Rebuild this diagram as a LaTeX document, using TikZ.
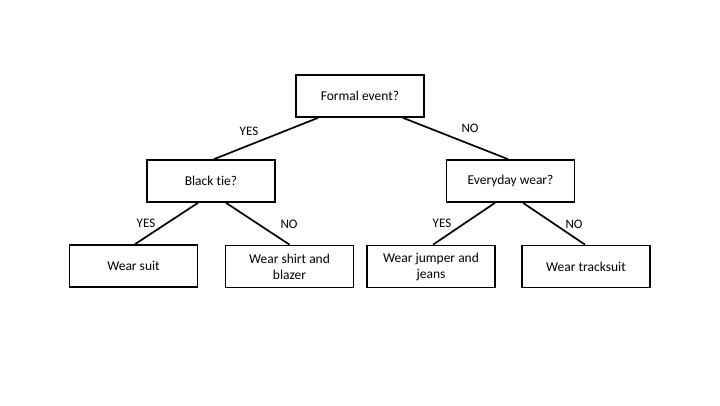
\documentclass[tikz,border=0pt]{standalone}
\usepackage{fontspec}
\setmainfont{Carlito}[Ligatures=NoCommon]
\usepackage{tikz}

\tikzset{
  choice/.style={draw, line width=1.7pt, minimum width=128pt, minimum height=42pt,
    align=center, inner sep=2pt, font=\fontsize{13.5}{16}\selectfont},
  branch/.style={line width=1.7pt},
  answer/.style={font=\fontsize{13}{14}\selectfont}
}

\begin{document}
\begin{tikzpicture}[x=1pt,y=-1pt]
\useasboundingbox (0,0) rectangle (720,405);

% questions
\node[choice] (formal) at (360,96) {Formal event?};
\node[choice] (blacktie) at (211,181) {Black tie?};
\node[choice] (everyday) at (510.5,181) {Everyday wear?};

% outcomes
\node[choice] (suit) at (133.5,266) {Wear suit};
\node[choice] (shirt) at (289.5,266.5) {Wear shirt and\\blazer};
\node[choice] (jumper) at (431,266.5) {Wear jumper and\\jeans};
\node[choice] (track) at (586,266.5) {Wear tracksuit};

% branches
\draw[branch] ([xshift=-42pt]formal.south) -- ([xshift=3pt]blacktie.north);
\draw[branch] ([xshift=43pt]formal.south) -- ([xshift=-2.5pt]everyday.north);
\draw[branch] ([xshift=-13pt]blacktie.south) -- ([xshift=1.5pt]suit.north);
\draw[branch] ([xshift=15pt]blacktie.south) -- ([xshift=0pt]shirt.north);
\draw[branch] ([xshift=-15.5pt]everyday.south) -- ([xshift=2pt]jumper.north);
\draw[branch] ([xshift=12.5pt]everyday.south) -- ([xshift=-1pt]track.north);

% answers
\node[answer] (yes1) at (249,131) {YES};
\node[answer] (no1) at (470,128) {NO};
\node[answer] (yes2) at (146,223) {YES};
\node[answer] (no2) at (289,224) {NO};
\node[answer] (yes3) at (442,223) {YES};
\node[answer] (no3) at (574,224) {NO};
\end{tikzpicture}
\end{document}
